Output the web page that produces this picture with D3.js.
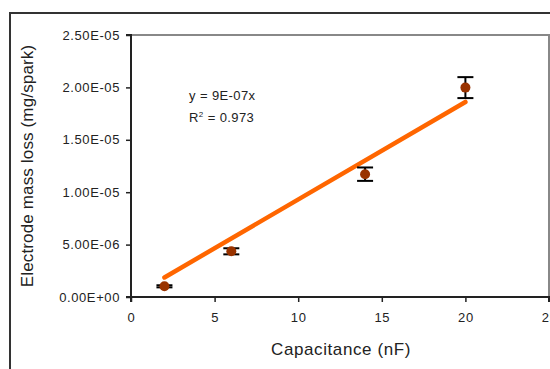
<!DOCTYPE html>
<html>
<head>
<meta charset="utf-8">
<script src="https://cdn.jsdelivr.net/npm/d3@7"></script>
<style>
  html, body { margin: 0; padding: 0; background: #fff; overflow: hidden; }
  svg { display: block; font-family: "Liberation Sans", Arial, sans-serif; }
</style>
</head>
<body>
<svg id="chart" width="550" height="369"></svg>
<script>
// Capacitance (nF) versus electrode mass loss per spark (mg/spark)
const capacitance = [2, 6, 14, 20];
const massLoss = [1.02e-6, 4.36e-6, 11.72e-6, 19.98e-6];
const massLossErr = [0.1e-6, 0.29e-6, 0.64e-6, 1.0e-6];
const xTicks = [0, 5, 10, 15, 20, 25];
const yTicks = [0, 5e-6, 1e-5, 1.5e-5, 2e-5, 2.5e-5];
const rSquared = 0.973;

// Least-squares fit through the origin
const slope = d3.sum(capacitance, (c, i) => c * massLoss[i]) / d3.sum(capacitance, c => c * c);

const svg = d3.select("#chart");
const plot = { left: 131, top: 35, right: 549, bottom: 297 };

const x = d3.scaleLinear().domain([0, 25]).range([plot.left, plot.right]);
const y = d3.scaleLinear().domain([0, 2.5e-5]).range([plot.bottom, plot.top]);

// Outer chart frame
svg.append("path")
  .attr("d", `M10,369 V13 H550`)
  .attr("fill", "none").attr("stroke", "#333").attr("stroke-width", 2);

// Plot area top / right border
svg.append("path")
  .attr("d", `M${plot.left},${plot.top} H${plot.right} V${plot.bottom}`)
  .attr("fill", "none").attr("stroke", "#888").attr("stroke-width", 2);

// Exponent-style tick labels, e.g. 2.50E-05
function expFmt(v) {
  if (v === 0) return "0.00E+00";
  const e = Math.floor(Math.log10(Math.abs(v)) + 1e-9);
  const m = v / Math.pow(10, e);
  const sign = e < 0 ? "-" : "+";
  return m.toFixed(2) + "E" + sign + String(Math.abs(e)).padStart(2, "0");
}

const yAxis = svg.append("g")
  .attr("transform", `translate(${plot.left},0)`)
  .call(d3.axisLeft(y).tickValues(yTicks).tickFormat(expFmt).tickSize(5).tickPadding(6));
const xAxis = svg.append("g")
  .attr("transform", `translate(0,${plot.bottom})`)
  .call(d3.axisBottom(x).tickValues(xTicks).tickFormat(d3.format("d")).tickSize(5).tickPadding(11));

[yAxis, xAxis].forEach(g => {
  g.select(".domain").attr("stroke", "#222").attr("stroke-width", 2);
  g.selectAll(".tick line").attr("stroke", "#222").attr("stroke-width", 1.5);
  g.selectAll(".tick text")
    .attr("fill", "#222")
    .style("font-family", "'Liberation Sans', Arial, sans-serif")
    .style("font-size", "13px")
    .style("letter-spacing", "0.6px");
});
yAxis.select(".domain").attr("d", `M-5,${plot.bottom}H0V${plot.top}H-5`);
xAxis.select(".domain").attr("d", `M${plot.left},5V0H${plot.right}V5`);

// Axis titles
svg.append("text")
  .attr("x", 341).attr("y", 355)
  .attr("text-anchor", "middle")
  .attr("font-size", 17).attr("fill", "#222")
  .style("letter-spacing", "0.6px")
  .text("Capacitance (nF)");
svg.append("text")
  .attr("transform", `translate(33,${(plot.top + plot.bottom) / 2}) rotate(-90)`)
  .attr("text-anchor", "middle")
  .attr("font-size", 17).attr("fill", "#222")
  .style("letter-spacing", "0.15px")
  .text("Electrode mass loss (mg/spark)");

// Trend line over the data range
const xMin = d3.min(capacitance), xMax = d3.max(capacitance);
svg.append("line")
  .attr("x1", x(xMin)).attr("y1", y(slope * xMin))
  .attr("x2", x(xMax)).attr("y2", y(slope * xMax))
  .attr("stroke", "#ff6600").attr("stroke-width", 4.5).attr("stroke-linecap", "round");

// Error bars
const pts = capacitance.map((c, i) => ({ c, v: massLoss[i], e: massLossErr[i] }));
const eb = svg.append("g").attr("stroke", "#000").attr("stroke-width", 2);
pts.forEach(p => {
  const cx = x(p.c);
  eb.append("line").attr("x1", cx).attr("x2", cx).attr("y1", y(p.v + p.e)).attr("y2", y(p.v - p.e));
  [p.v + p.e, p.v - p.e].forEach(val => {
    eb.append("line").attr("x1", cx - 8).attr("x2", cx + 8).attr("y1", y(val)).attr("y2", y(val));
  });
});

// Data points
svg.append("g").selectAll("circle").data(pts).join("circle")
  .attr("cx", d => x(d.c)).attr("cy", d => y(d.v))
  .attr("r", 5).attr("fill", "#993300");

// Fit equation and R²
const slopeLabel = d3.format(".0e")(slope).replace(/e([+-])(\d)$/, "E$10$2").replace("e", "E");
const eq = svg.append("g").attr("font-size", 13).attr("fill", "#222").style("letter-spacing", "0.4px");
eq.append("text").attr("x", 189).attr("y", 100).text(`y = ${slopeLabel}x`);
const r2 = eq.append("text").attr("x", 189).attr("y", 122);
r2.append("tspan").text("R");
r2.append("tspan").attr("dy", -5).attr("font-size", 8).text("2");
r2.append("tspan").attr("dy", 5).text(` = ${rSquared.toFixed(3)}`);
</script>
</body>
</html>
